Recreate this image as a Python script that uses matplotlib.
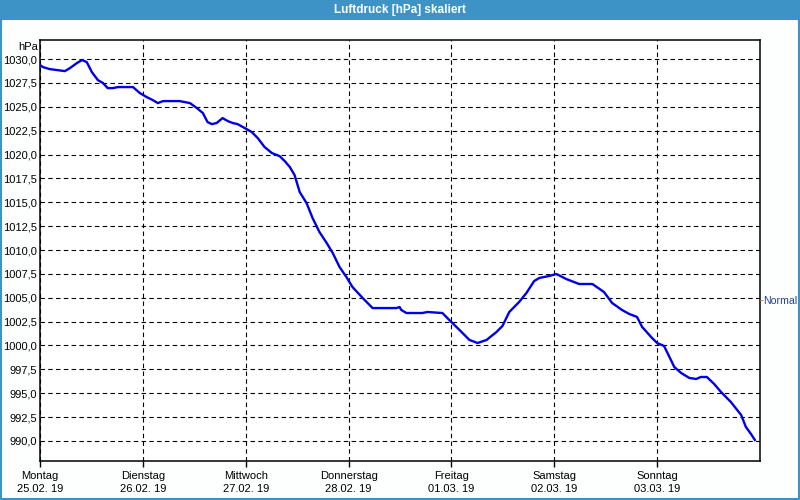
import matplotlib.pyplot as plt
from matplotlib.patches import Rectangle

plt.rcParams["font.family"] = ["Liberation Sans", "DejaVu Sans"]

TITLE = "Luftdruck [hPa] skaliert"
DAY_NAMES = ["Montag", "Dienstag", "Mittwoch", "Donnerstag", "Freitag", "Samstag", "Sonntag"]
DAY_DATES = ["25.02. 19", "26.02. 19", "27.02. 19", "28.02. 19", "01.03. 19", "02.03. 19", "03.03. 19"]
NORMAL_LEVEL = 1004.8

# hours since Monday 00:00, pressure in hPa
hours = [
    0, 0.7, 2.3, 4.0, 5.8, 7.0, 8.6, 9.8, 10.9, 12.1, 13.5, 14.7, 15.8, 17.0, 18.2,
    21.7, 23.3, 24.9, 26.3, 27.5, 28.7, 32.6, 35.0, 36.6, 38.0, 39.1, 40.1, 41.2,
    42.6, 43.8, 45.0, 46.1, 48.2, 49.4, 50.8, 52.4, 54.1, 55.9, 57.1, 58.3, 59.4,
    60.6, 62.2, 63.6, 65.2, 66.9, 68.3, 69.9, 71.5, 72.9, 75.3, 77.6, 83.2, 83.9,
    84.3, 85.5, 87.8, 89.2, 90.4, 93.9, 95.5, 97.9, 100.2, 102.1, 104.2, 106.5,
    107.9, 109.5, 111.8, 113.5, 115.3, 116.5, 118.8, 120.5, 122.8, 125.8, 128.9,
    131.6, 133.5, 135.8, 137.5, 139.3, 140.5, 142.8, 144.0, 145.6, 146.3, 148.0,
    149.6, 151.5, 153.1, 154.2, 155.6, 157.3, 158.9, 161.2, 163.6, 164.7, 165.9,
    166.8,
]
pressure = [
    1029.37, 1029.16, 1028.95, 1028.85, 1028.74, 1029.06, 1029.58, 1029.90, 1029.69,
    1028.64, 1027.80, 1027.49, 1026.96, 1026.96, 1027.07, 1027.07, 1026.44, 1026.02,
    1025.71, 1025.39, 1025.60, 1025.60, 1025.39, 1024.87, 1024.35, 1023.40, 1023.19,
    1023.30, 1023.82, 1023.51, 1023.30, 1023.19, 1022.67, 1022.36, 1021.73, 1020.79,
    1020.16, 1019.84, 1019.32, 1018.69, 1017.85, 1016.07, 1014.92, 1013.35, 1011.89,
    1010.73, 1009.69, 1008.22, 1007.17, 1006.13, 1004.97, 1003.92, 1003.92, 1004.03,
    1003.72, 1003.40, 1003.40, 1003.40, 1003.51, 1003.40, 1002.67, 1001.62, 1000.58,
    1000.26, 1000.58, 1001.41, 1002.04, 1003.51, 1004.56, 1005.50, 1006.75, 1007.07,
    1007.28, 1007.49, 1006.96, 1006.44, 1006.44, 1005.60, 1004.45, 1003.72, 1003.30,
    1002.99, 1001.94, 1000.79, 1000.26, 999.95, 999.32, 997.75, 997.12, 996.60,
    996.49, 996.70, 996.70, 995.97, 995.13, 994.08, 992.72, 991.47, 990.73, 990.10,
]

y_ticks = [990.0 + 2.5 * i for i in range(17)]

bar_color = "#3d93c6"

fig = plt.figure(figsize=(8, 5), dpi=100)
fig.patch.set_facecolor("#fdfefe")

# title bar and blue frame around the window
fig.add_artist(Rectangle((0, 0.96), 1, 0.04, transform=fig.transFigure,
                         facecolor=bar_color, edgecolor="none"))
fig.add_artist(Rectangle((0.0012, 0.002), 0.9976, 0.96, transform=fig.transFigure,
                         facecolor="none", edgecolor=bar_color, linewidth=1.5))
fig.text(0.5, 0.98, TITLE, color="white", ha="center", va="center",
         fontsize=8.5, fontweight="bold")

ax = fig.add_axes([0.05, 0.078, 0.90, 0.842])
ax.set_facecolor("white")

ax.plot([h / 24 for h in hours], pressure, color="#0000e6", linewidth=1.7,
        solid_joinstyle="round", zorder=3)

ax.set_xlim(0, 7)
ax.set_ylim(987.9, 1032.0)

ax.set_xticks(range(7))
ax.set_xticklabels([f"{n}\n{d}" for n, d in zip(DAY_NAMES, DAY_DATES)],
                   fontsize=8, linespacing=1.35)
ax.set_yticks(y_ticks)
ax.set_yticklabels([f"{v:.1f}".replace(".", ",") for v in y_ticks], fontsize=8)
ax.tick_params(axis="x", length=4, width=1, pad=3, color="black")
ax.tick_params(axis="y", length=0, pad=2)

ax.grid(True, color="black", linestyle=(0, (4, 3)), linewidth=0.8)
for side in ["left", "right", "top", "bottom"]:
    ax.spines[side].set_linewidth(1.1)
    ax.spines[side].set_color("black")

ax.text(-0.003, 1.0 - 0.005, "hPa", transform=ax.transAxes, ha="right", va="top", fontsize=8)

ax2 = ax.twinx()
ax2.set_ylim(ax.get_ylim())
ax2.set_yticks([NORMAL_LEVEL])
ax2.set_yticklabels(["Normal"], fontsize=7.6, color="#23409a")
ax2.tick_params(axis="y", length=2, width=0.8, pad=0.5, color="#d0a040")
for side in ["left", "right", "top", "bottom"]:
    ax2.spines[side].set_visible(False)

fig.savefig("out.png", dpi=100, facecolor=fig.get_facecolor())
